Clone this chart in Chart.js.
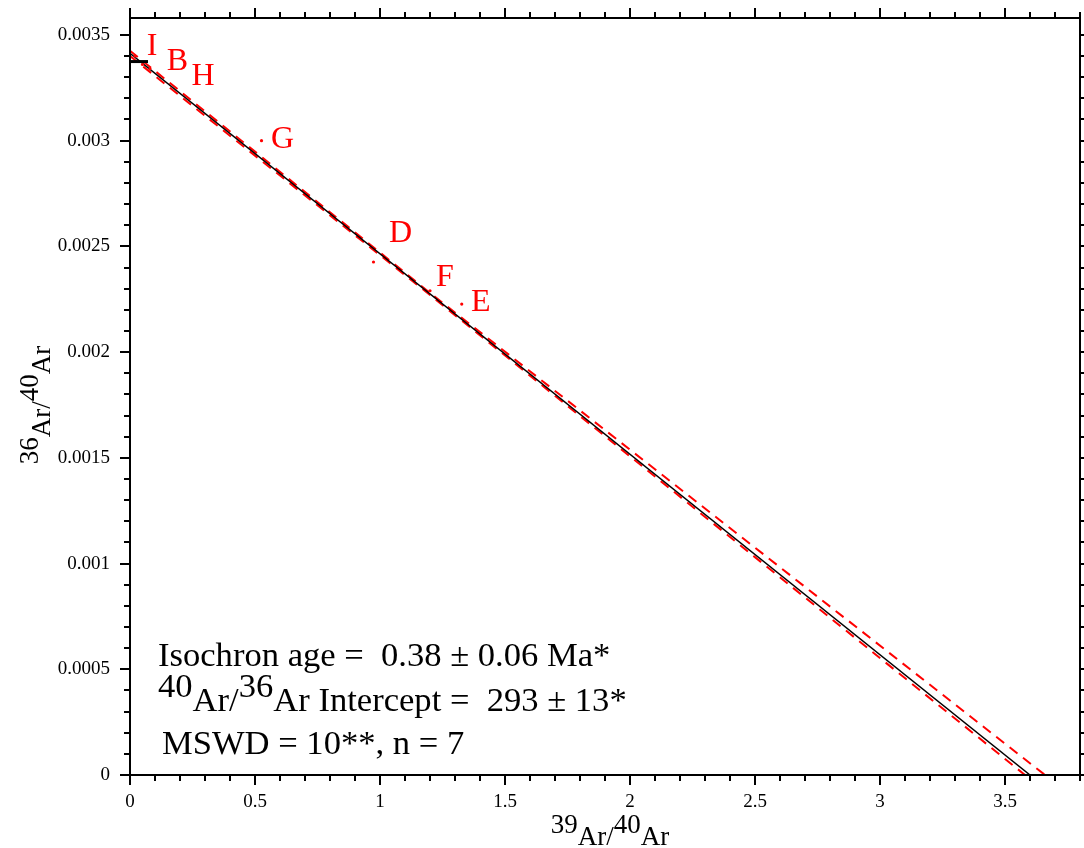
<!DOCTYPE html>
<html>
<head>
<meta charset="utf-8">
<script src="https://cdn.jsdelivr.net/npm/chart.js@4.4.1/dist/chart.umd.min.js"></script>
<style>
  html, body { margin: 0; padding: 0; background: #fff; }
</style>
</head>
<body>
<canvas id="isochron" width="1084" height="848"></canvas>
<script>
// --- inverse isochron: 36Ar/40Ar vs 39Ar/40Ar ---

// heating steps
const stepNames = ['I', 'B', 'H', 'G', 'D', 'F', 'E'];
const ar39ar40 = [0.02, 0.05, 0.08, 0.526, 0.974, 1.20, 1.327];
const ar36ar40 = [0.00340, 0.00336, 0.00334, 0.00300, 0.002426, 0.00229, 0.002227];

// regression line
const fitX = [0, 3.60];
const fitY = [0.003413, 0];

// error envelope
const envUpperX = [0, 1.2, 3.66];
const envUpperY = [0.003425, 0.00228, 0];
const envLowerX = [0, 1.2, 3.58];
const envLowerY = [0.003400, 0.00227, 0];

// atmospheric 36Ar/40Ar marker
const atmX = [0, 0.072];
const atmY = [0.003374, 0.003374];

// axes
const xTicks = [0, 0.5, 1, 1.5, 2, 2.5, 3, 3.5];
const xTickLabels = ['0', '0.5', '1', '1.5', '2', '2.5', '3', '3.5'];
const yTicks = [0, 0.0005, 0.001, 0.0015, 0.002, 0.0025, 0.003, 0.0035];
const yTickLabels = ['0', '0.0005', '0.001', '0.0015', '0.002', '0.0025', '0.003', '0.0035'];

const SERIF = "'Liberation Serif', 'Times New Roman', serif";
const RED = '#ff0000';

function toPoints(xs, ys) {
    return xs.map((v, i) => ({ x: v, y: ys[i] }));
}

// label offsets (px) from each step's point
const labelOffsets = {
    I: [17, -9], B: [35, -3], H: [53, 8], G: [21, -1],
    D: [27, -28], F: [15, -13], E: [19, -2]
};

// text made of normal and raised pieces, e.g. 40Ar/36Ar
function drawIsotopeText(ctx, parts, x, y, size, raise) {
    ctx.font = size + 'px ' + SERIF;
    let cx = x;
    parts.forEach(([txt, up]) => {
        ctx.fillText(txt, cx, up ? y - raise : y);
        cx += ctx.measureText(txt).width;
    });
    return cx - x;
}

function isotopeWidth(ctx, parts, size) {
    ctx.font = size + 'px ' + SERIF;
    return parts.reduce((w, p) => w + ctx.measureText(p[0]).width, 0);
}

const decorPlugin = {
    id: 'decor',
    afterDatasetsDraw(chart) {
        const ctx = chart.ctx;
        const meta = chart.getDatasetMeta(0);
        ctx.save();
        ctx.fillStyle = RED;
        ctx.font = '32px ' + SERIF;
        ctx.textAlign = 'center';
        ctx.textBaseline = 'middle';
        meta.data.forEach((pt, i) => {
            const off = labelOffsets[stepNames[i]];
            ctx.fillText(stepNames[i], pt.x + off[0], pt.y + off[1]);
        });
        ctx.restore();
    },
    afterDraw(chart) {
        const { ctx, chartArea: a, scales: { x, y } } = chart;
        ctx.save();
        ctx.strokeStyle = '#000';
        ctx.lineWidth = 2;
        ctx.strokeRect(a.left, a.top, a.right - a.left, a.bottom - a.top);

        // outward ticks on all four sides, minor every 0.1 / 0.0001
        ctx.beginPath();
        for (let i = 0; i <= 38; i++) {
            const px = Math.round(x.getPixelForValue(i / 10));
            const len = i % 5 === 0 ? 10 : 6;
            ctx.moveTo(px, a.bottom); ctx.lineTo(px, a.bottom + len);
            ctx.moveTo(px, a.top); ctx.lineTo(px, a.top - len);
        }
        for (let i = 0; i <= 35; i++) {
            const py = Math.round(y.getPixelForValue(i / 10000));
            const len = i % 5 === 0 ? 10 : 6;
            ctx.moveTo(a.left, py); ctx.lineTo(a.left - len, py);
            ctx.moveTo(a.right, py); ctx.lineTo(a.right + len, py);
        }
        ctx.stroke();

        ctx.fillStyle = '#000';
        ctx.textAlign = 'left';
        ctx.textBaseline = 'alphabetic';

        // x axis title
        const xTitle = [['39', true], ['Ar/', false], ['40', true], ['Ar', false]];
        const xw = isotopeWidth(ctx, xTitle, 27);
        drawIsotopeText(ctx, xTitle, 610 - xw / 2, 845, 27, 12);

        // y axis title, rotated
        const yTitle = [['36', true], ['Ar/', false], ['40', true], ['Ar', false]];
        const yw = isotopeWidth(ctx, yTitle, 27);
        ctx.save();
        ctx.translate(50, 405);
        ctx.rotate(-Math.PI / 2);
        drawIsotopeText(ctx, yTitle, -yw / 2, 0, 27, 12);
        ctx.restore();

        // results box
        ctx.font = '34.6px ' + SERIF;
        ctx.fillText('Isochron age =  0.38 \u00b1 0.06 Ma*', 158, 666);
        drawIsotopeText(ctx, [['40', true], ['Ar/', false], ['36', true],
            ['Ar Intercept =  293 \u00b1 13*', false]], 158, 711, 34.6, 14);
        ctx.font = '34.6px ' + SERIF;
        ctx.fillText('MSWD = 10**, n = 7', 162, 754);
        ctx.restore();
    }
};

const tickFont = { family: SERIF, size: 19 };

new Chart(document.getElementById('isochron'), {
    type: 'scatter',
    data: {
        datasets: [
            {
                label: 'steps',
                data: toPoints(ar39ar40, ar36ar40),
                pointRadius: 1.6,
                pointBorderWidth: 0,
                pointBackgroundColor: RED,
                showLine: false
            },
            {
                label: 'fit',
                data: toPoints(fitX, fitY),
                showLine: true,
                borderColor: '#000',
                borderWidth: 1.5,
                pointRadius: 0
            },
            {
                label: 'atm',
                data: toPoints(atmX, atmY),
                showLine: true,
                borderColor: '#000',
                borderWidth: 3,
                pointRadius: 0
            },
            {
                label: 'upper',
                data: toPoints(envUpperX, envUpperY),
                showLine: true,
                borderColor: RED,
                borderWidth: 2,
                borderDash: [10, 7],
                pointRadius: 0
            },
            {
                label: 'lower',
                data: toPoints(envLowerX, envLowerY),
                showLine: true,
                borderColor: RED,
                borderWidth: 2,
                borderDash: [10, 7],
                pointRadius: 0
            }
        ]
    },
    options: {
        responsive: false,
        animation: false,
        layout: { padding: { top: 18, right: 2, left: 0, bottom: 0 } },
        scales: {
            x: {
                type: 'linear',
                min: 0,
                max: 3.8,
                grid: { display: false },
                border: { display: false },
                afterBuildTicks: s => { s.ticks = xTicks.map(v => ({ value: v })); },
                afterFit: s => { s.height = 73; s.paddingLeft = 0; s.paddingRight = 0; },
                ticks: {
                    autoSkip: false,
                    maxRotation: 0,
                    padding: 8,
                    color: '#000',
                    font: tickFont,
                    callback: (v, i) => xTickLabels[i]
                }
            },
            y: {
                type: 'linear',
                min: 0,
                max: 0.00358,
                grid: { display: false },
                border: { display: false },
                afterBuildTicks: s => { s.ticks = yTicks.map(v => ({ value: v })); },
                afterFit: s => { s.width = 130; s.paddingTop = 0; s.paddingBottom = 0; },
                ticks: {
                    autoSkip: false,
                    padding: 12,
                    color: '#000',
                    font: tickFont,
                    callback: (v, i) => yTickLabels[i]
                }
            }
        },
        plugins: {
            legend: { display: false },
            tooltip: { enabled: false }
        }
    },
    plugins: [decorPlugin]
});
</script>
</body>
</html>
